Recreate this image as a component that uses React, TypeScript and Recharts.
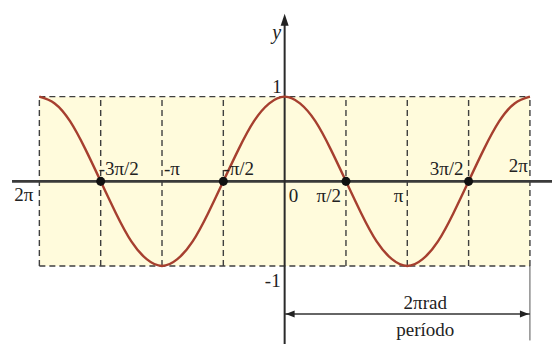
import React from "react";
import { ComposedChart, Line, XAxis, YAxis, ReferenceArea, ReferenceLine, ReferenceDot } from "recharts";

// x values in units of π
const curveX = [
  -2, -1.875, -1.75, -1.625, -1.5, -1.375, -1.25, -1.125, -1, -0.875, -0.75, -0.625, -0.5, -0.375, -0.25, -0.125,
  0, 0.125, 0.25, 0.375, 0.5, 0.625, 0.75, 0.875, 1, 1.125, 1.25, 1.375, 1.5, 1.625, 1.75, 1.875, 2,
];
const curveY = [
  1, 0.92, 0.71, 0.38, 0, -0.38, -0.71, -0.92, -1, -0.92, -0.71, -0.38, 0, 0.38, 0.71, 0.92,
  1, 0.92, 0.71, 0.38, 0, -0.38, -0.71, -0.92, -1, -0.92, -0.71, -0.38, 0, 0.38, 0.71, 0.92, 1,
];
const gridX = [-2, -1.5, -1, -0.5, 0.5, 1, 1.5, 2];
const crossingsX = [-1.5, -0.5, 0.5, 1.5];
const tickValues = [-2, -1.5, -1, -0.5, 0, 0.5, 1, 1.5, 2];
const tickLabels = ["2π", "-3π/2", "-π", "-π/2", "0", "π/2", "π", "3π/2", "2π"];
const yTickValues = [1, -1];
const yTickLabels = ["1", "-1"];
const periodStart = 0;
const periodEnd = 2;
const periodTop = "2πrad";
const periodBottom = "período";

// label placement (pixel offsets, anchor) — styling only
const tickStyle: { dx: number; dy: number; anchor: "start" | "end" | "middle" }[] = [
  { dx: -6, dy: 20, anchor: "end" },
  { dx: -2, dy: -6, anchor: "start" },
  { dx: 2, dy: -6, anchor: "start" },
  { dx: 0, dy: -6, anchor: "start" },
  { dx: 4, dy: 21, anchor: "start" },
  { dx: -5, dy: 21, anchor: "end" },
  { dx: -4, dy: 21, anchor: "end" },
  { dx: -5, dy: -6, anchor: "end" },
  { dx: -2, dy: -9, anchor: "end" },
];
const yTickStyle = [
  { dx: -3, dy: -4 },
  { dx: -4, dy: 21 },
];

const data = curveX.map((x, i) => ({ x, y: curveY[i] }));

const X_MIN = -2.321;
const X_MAX = 2.18;
const Y_MIN = -1.922;
const Y_MAX = 2.142;
const AXIS_X_START = -2.223;
const Y_ARROW_TIP = 1.98;
const PERIOD_Y = -1.567;
const PERIOD_LINE_BOTTOM = -1.88;

const FONT = "Liberation Serif, Times New Roman, DejaVu Serif, serif";
const DASH = "6 4";
const GRID = "#3f3f3f";

const textShape = (label: string, dx: number, dy: number, anchor: string, extra: any = {}) => (p: any) => (
  <text
    x={p.cx + dx}
    y={p.cy + dy}
    textAnchor={anchor}
    fill="#222"
    style={{ fontFamily: FONT, fontSize: 19, ...extra }}
  >
    {label}
  </text>
);

export default function App() {
  return (
    <div style={{ position: "absolute", left: 0, top: 0, width: 552, height: 344, background: "#fff" }}>
      <ComposedChart width={552} height={344} data={data} margin={{ top: 0, right: 0, bottom: 0, left: 0 }}>
        <XAxis type="number" dataKey="x" domain={[X_MIN, X_MAX]} allowDataOverflow hide />
        <YAxis type="number" domain={[Y_MIN, Y_MAX]} allowDataOverflow hide />
        <ReferenceArea x1={-2} x2={2} y1={-1} y2={1} fill="#fffbdc" fillOpacity={1} stroke="none" />
        {gridX.map((gx) => (
          <ReferenceLine
            key={"g" + gx}
            segment={[{ x: gx, y: -1 }, { x: gx, y: 1 }]}
            stroke={GRID}
            strokeWidth={1.4}
            strokeDasharray={DASH}
          />
        ))}
        <ReferenceLine segment={[{ x: -2, y: 1 }, { x: 2, y: 1 }]} stroke={GRID} strokeWidth={1.4} strokeDasharray={DASH} />
        <ReferenceLine segment={[{ x: -2, y: -1 }, { x: 2, y: -1 }]} stroke={GRID} strokeWidth={1.4} strokeDasharray={DASH} />
        <ReferenceLine segment={[{ x: AXIS_X_START, y: 0 }, { x: X_MAX, y: 0 }]} stroke="#3a3a3a" strokeWidth={2.8} />
        <ReferenceLine segment={[{ x: 0, y: Y_ARROW_TIP - 0.05 }, { x: 0, y: Y_MIN }]} stroke="#2a2a2a" strokeWidth={2} />
        <ReferenceDot
          x={0}
          y={Y_ARROW_TIP}
          r={0}
          shape={(p: any) => <path d={`M${p.cx},${p.cy} L${p.cx - 4},${p.cy + 12} L${p.cx + 4},${p.cy + 12} Z`} fill="#222" />}
        />
        <Line
          type="natural"
          dataKey="y"
          stroke="#a63f2f"
          strokeWidth={2.4}
          dot={false}
          activeDot={false}
          isAnimationActive={false}
        />
        {crossingsX.map((cx) => (
          <ReferenceDot key={"c" + cx} x={cx} y={0} r={4.5} fill="#111" stroke="none" />
        ))}
        {tickValues.map((v, i) => (
          <ReferenceDot
            key={"t" + i}
            x={v}
            y={0}
            r={0}
            shape={textShape(tickLabels[i], tickStyle[i].dx, tickStyle[i].dy, tickStyle[i].anchor)}
          />
        ))}
        {yTickValues.map((v, i) => (
          <ReferenceDot
            key={"yt" + i}
            x={0}
            y={v}
            r={0}
            shape={textShape(yTickLabels[i], yTickStyle[i].dx, yTickStyle[i].dy, "end")}
          />
        ))}
        <ReferenceDot x={0} y={Y_ARROW_TIP} r={0} shape={textShape("y", -8, 25, "middle", { fontStyle: "italic", fontSize: 20 })} />
        {/* period annotation */}
        <ReferenceLine segment={[{ x: periodEnd, y: -1 }, { x: periodEnd, y: PERIOD_LINE_BOTTOM }]} stroke="#555" strokeWidth={1} />
        <ReferenceLine segment={[{ x: periodStart, y: PERIOD_Y }, { x: periodEnd, y: PERIOD_Y }]} stroke="#333" strokeWidth={1.5} />
        <ReferenceDot
          x={periodStart}
          y={PERIOD_Y}
          r={0}
          shape={(p: any) => <path d={`M${p.cx + 1},${p.cy} L${p.cx + 10},${p.cy - 3.5} L${p.cx + 10},${p.cy + 3.5} Z`} fill="#222" />}
        />
        <ReferenceDot
          x={periodEnd}
          y={PERIOD_Y}
          r={0}
          shape={(p: any) => <path d={`M${p.cx - 1},${p.cy} L${p.cx - 10},${p.cy - 3.5} L${p.cx - 10},${p.cy + 3.5} Z`} fill="#222" />}
        />
        <ReferenceDot x={(periodStart + periodEnd) / 2} y={PERIOD_Y} r={0} shape={textShape(periodTop, 18, -5, "middle")} />
        <ReferenceDot x={(periodStart + periodEnd) / 2} y={PERIOD_Y} r={0} shape={textShape(periodBottom, 18, 22, "middle")} />
      </ComposedChart>
    </div>
  );
}
